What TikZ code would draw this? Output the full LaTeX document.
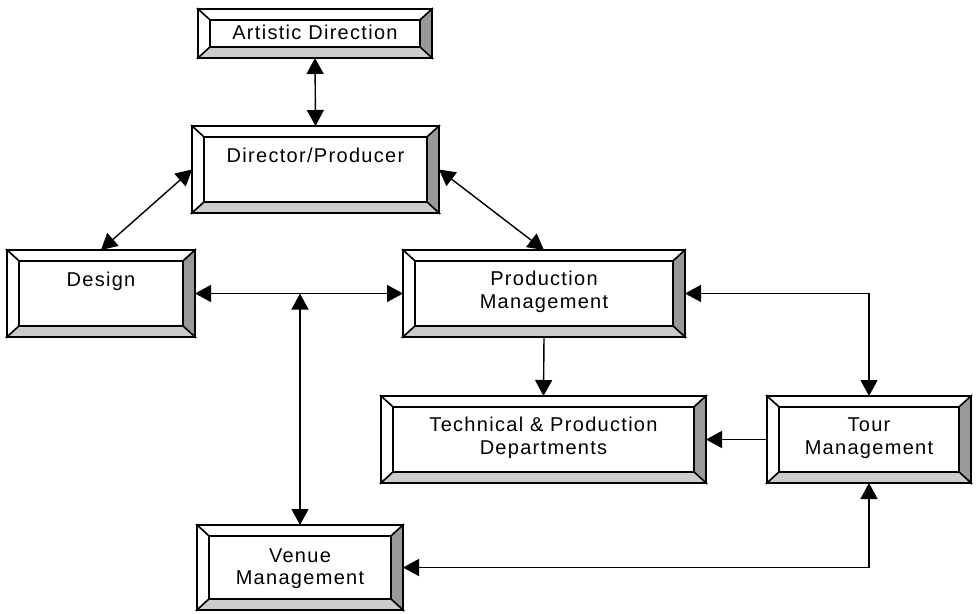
\documentclass[tikz,border=0pt]{standalone}
\usepackage{fontspec}
\newfontfamily\lsans[LetterSpace=6.5]{Liberation Sans}
\usetikzlibrary{arrows.meta,fit}
\definecolor{bevdark}{HTML}{999999}
\definecolor{bevlight}{HTML}{CCCCCC}
\tikzset{
  bevline/.style={draw=black,line width=1.5pt,line join=miter},
  boxarea/.style={inner sep=0pt,outer sep=0pt,draw=none},
  lbl/.style={anchor=base,inner sep=0pt,font=\lsans\fontsize{20}{23}\selectfont},
  conn/.style={draw=black,line width=1.4pt},
  arr/.style={conn,-{Triangle[length=16pt,width=17pt]}},
  darr/.style={conn,{Triangle[length=16pt,width=17pt]}-{Triangle[length=16pt,width=17pt]}},
}
\newcommand\bevbox[5]{%
  \coordinate (#1-a) at (#2,#3);
  \coordinate (#1-b) at (#4,#5);
  \node[boxarea,fit=(#1-a)(#1-b)] (#1) {};
  \path[bevline,fill=white] (#2,#3) -- (#4,#3) -- (#4-12,#3+11) -- (#2+12,#3+11) -- cycle;
  \path[bevline,fill=white] (#2,#3) -- (#2+12,#3+11) -- (#2+12,#5-11) -- (#2,#5) -- cycle;
  \path[bevline,fill=bevdark] (#4,#3) -- (#4,#5) -- (#4-12,#5-11) -- (#4-12,#3+11) -- cycle;
  \path[bevline,fill=bevlight] (#2,#5) -- (#4,#5) -- (#4-12,#5-11) -- (#2+12,#5-11) -- cycle;
  \path[bevline,fill=white] (#2+12,#3+11) rectangle (#4-12,#5-11);
  \path[bevline,line width=1.8pt] (#2,#3) rectangle (#4,#5);
}
\begin{document}
\begin{tikzpicture}[x=1pt,y=-1pt]
\useasboundingbox (0,0) rectangle (979,613);
\fill[white] (0,0) rectangle (979,613);

\bevbox{art}{198}{9}{432}{58}
\bevbox{dir}{192}{126}{439}{213}
\bevbox{des}{7}{250}{195}{337}
\bevbox{prod}{403}{250}{685}{337}
\bevbox{tech}{381}{396}{706}{483}
\bevbox{tour}{767}{396}{971}{483}
\bevbox{ven}{197}{525}{403}{610}

\node[lbl] (art-t) at (315,39) {Artistic Direction};
\node[lbl] (dir-t) at (315.5,162) {Director/Producer};
\node[lbl] (des-t) at (101,286) {Design};
\node[lbl] (prod-t1) at (544,285) {Production};
\node[lbl] (prod-t2) at (544,308) {Management};
\node[lbl] (tech-t1) at (543.5,431) {Technical \& Production};
\node[lbl] (tech-t2) at (543.5,454) {Departments};
\node[lbl] (tour-t1) at (869,431) {Tour};
\node[lbl] (tour-t2) at (869,454) {Management};
\node[lbl] (ven-t1) at (300,562) {Venue};
\node[lbl] (ven-t2) at (300,584) {Management};

\coordinate (j) at (ven.north |- des.east);

\draw[darr] (art.south) -- (dir.north);
\draw[darr] (dir.west) -- (des.north);
\draw[darr] (dir.east) -- (prod.north);
\draw[darr] (des.east) -- (prod.west);
\draw[darr] (j) -- (ven.north);
\draw[arr] (prod.south) -- (tech.north);
\draw[darr] (prod.east) -| (tour.north);
\draw[arr] (tour.west) -- (tech.east);
\draw[darr] (tour.south) |- (ven.east);
\end{tikzpicture}
\end{document}
